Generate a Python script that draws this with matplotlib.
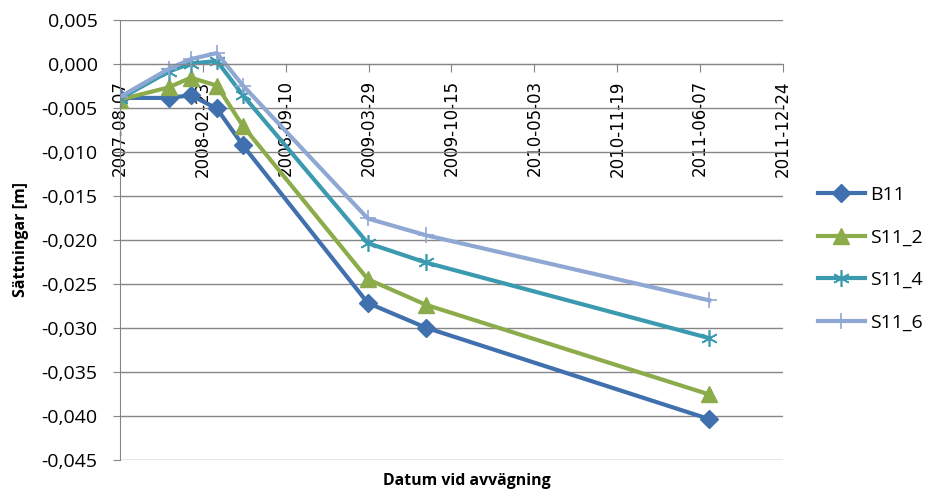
import numpy as np
import matplotlib
matplotlib.use('Agg')
import matplotlib.pyplot as plt
import matplotlib.dates as mdates

dates = ['2007-08-07', '2007-12-03', '2008-01-25', '2008-03-28',
         '2008-05-30', '2009-03-27', '2009-08-14', '2011-06-29']
b11 = [-0.0039, -0.0039, -0.0036, -0.0051, -0.0093, -0.0272, -0.0300, -0.0404]
s11_2 = [-0.0041, -0.0027, -0.0016, -0.0025, -0.0071, -0.0245, -0.0274, -0.0376]
s11_4 = [-0.0040, -0.0009, 0.0000, 0.0003, -0.0036, -0.0204, -0.0226, -0.0312]
s11_6 = [-0.0038, -0.0006, 0.0005, 0.0012, -0.0025, -0.0176, -0.0195, -0.0269]
series_names = ['B11', 'S11_2', 'S11_4', 'S11_6']
tick_dates = ['2007-08-07', '2008-02-23', '2008-09-10', '2009-03-29', '2009-10-15',
              '2010-05-03', '2010-11-19', '2011-06-07', '2011-12-24']

x = np.array(dates, dtype='datetime64[D]')
xt = np.array(tick_dates, dtype='datetime64[D]')

colors = ['#4170AE', '#8CAB4A', '#3C9AB0', '#8FA8D3']
body = 'Open Sans'

fig = plt.figure(figsize=(9.29, 4.90), dpi=100)
ax = fig.add_axes([0.129, 0.062, 0.714, 0.898])

ax.plot(x, b11, color=colors[0], lw=3, marker='D', ms=9.5, label=series_names[0])
ax.plot(x, s11_2, color=colors[1], lw=3, marker='^', ms=11, label=series_names[1])
ax.plot(x, s11_4, color=colors[2], lw=3, marker=(6, 2, 0), ms=12, mew=1.2,
        label=series_names[2])
ax.plot(x, s11_6, color=colors[3], lw=3, marker='+', ms=12, mew=1.2,
        label=series_names[3])

ax.set_xlim(xt[0], xt[-1])
ax.set_ylim(-0.045, 0.005)
ax.set_yticks(np.arange(-0.045, 0.0051, 0.005))
ax.yaxis.set_major_formatter(plt.FuncFormatter(
    lambda v, p: f'{v:.3f}'.replace('.', ',').replace('-0,000', '0,000')))
ax.set_xticks(xt)
ax.xaxis.set_major_formatter(mdates.DateFormatter('%Y-%m-%d'))

ax.grid(axis='y', color='#868686', lw=1)
ax.set_axisbelow(True)
for s in ['top', 'right']:
    ax.spines[s].set_visible(False)
ax.spines['bottom'].set_position(('data', 0))
ax.spines['left'].set_color('#868686')
ax.spines['bottom'].set_color('#868686')

ax.tick_params(axis='y', length=5, color='#868686', pad=11, labelsize=14,
               labelfontfamily=body)
ax.tick_params(axis='x', length=6, color='#868686', pad=6, labelsize=12,
               labelrotation=90, labelfontfamily='DejaVu Sans')

ax.set_ylabel('Sättningar [m]', fontsize=11.5, fontweight='bold', family=body,
              labelpad=9)
fig.text(0.502, 0.018, 'Datum vid avvägning', ha='center', va='center',
         fontsize=11.4, fontweight='bold', family=body)

ax.legend(loc='upper left', bbox_to_anchor=(1.026, 0.661), frameon=False,
          prop={'family': body, 'size': 14}, handlelength=2.4,
          labelspacing=1.26, handletextpad=0.3)

fig.savefig('out.png', dpi=100)
